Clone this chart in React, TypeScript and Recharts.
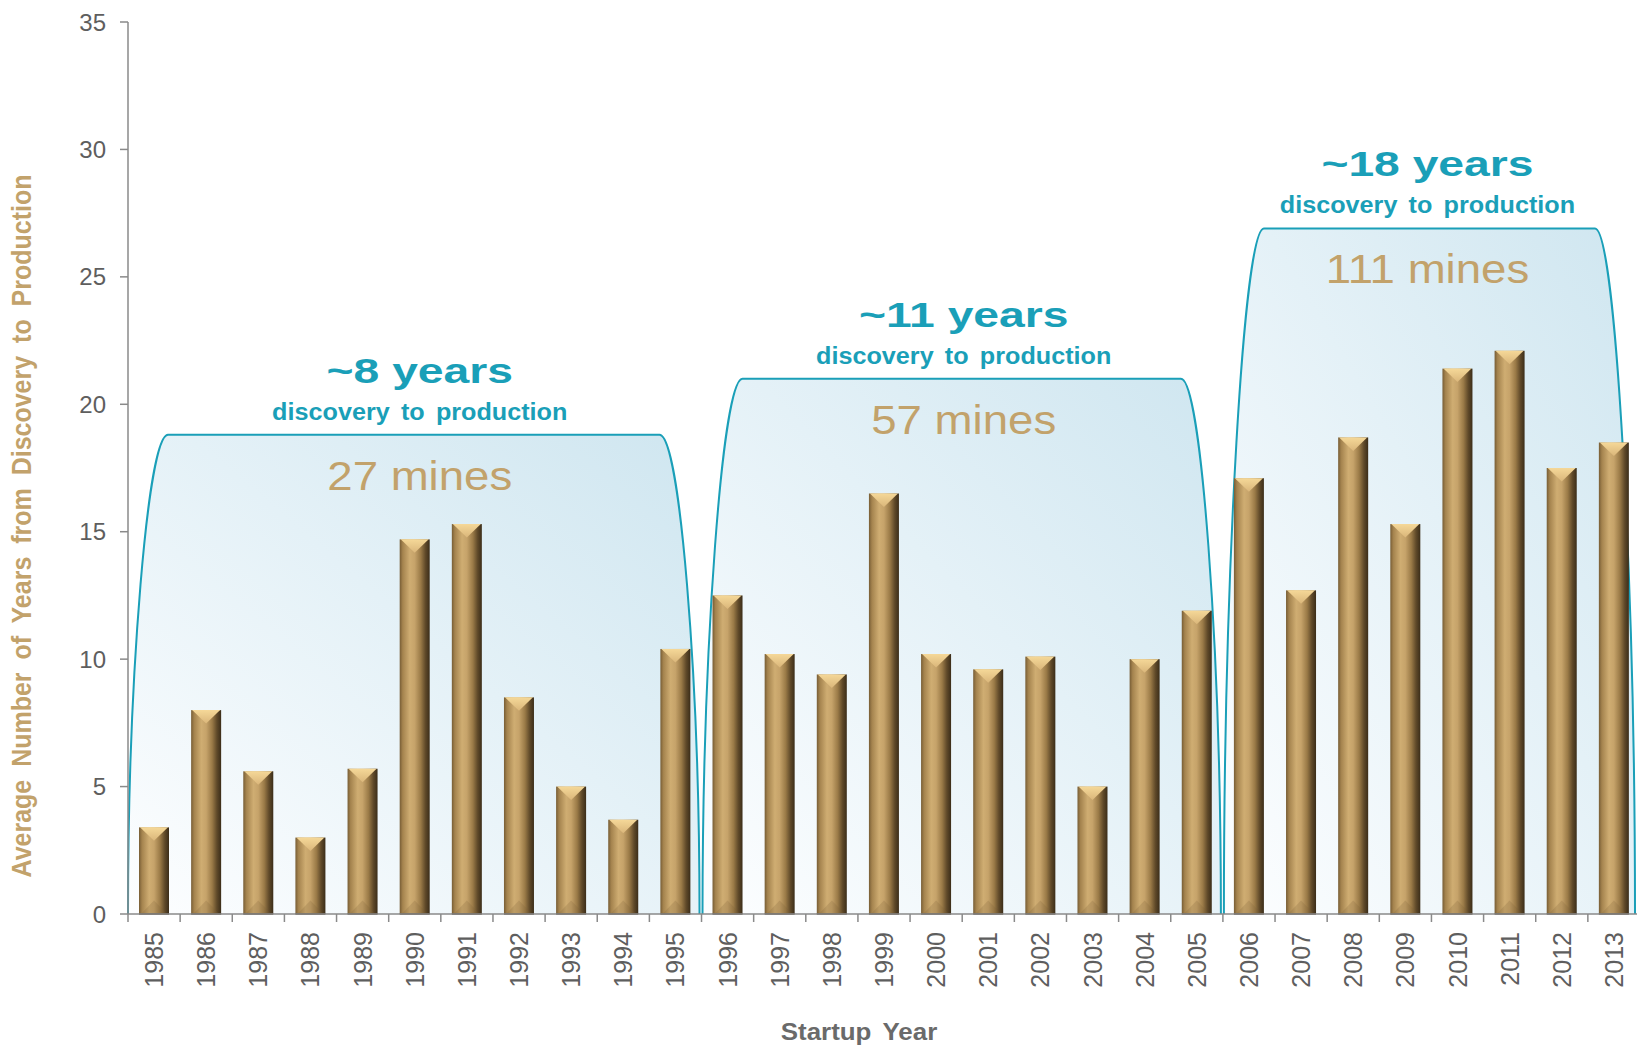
import React from "react"
import { BarChart, Bar, XAxis, YAxis, ReferenceArea } from "recharts"

const years = [
  1985, 1986, 1987, 1988, 1989, 1990, 1991, 1992, 1993, 1994, 1995,
  1996, 1997, 1998, 1999, 2000, 2001, 2002, 2003, 2004, 2005,
  2006, 2007, 2008, 2009, 2010, 2011, 2012, 2013,
]
const avgYears = [
  3.4, 8.0, 5.6, 3.0, 5.7, 14.7, 15.3, 8.5, 5.0, 3.7, 10.4,
  12.5, 10.2, 9.4, 16.5, 10.2, 9.6, 10.1, 5.0, 10.0, 11.9,
  17.1, 12.7, 18.7, 15.3, 21.4, 22.1, 17.5, 18.5,
]
const yTicks = [0, 5, 10, 15, 20, 25, 30, 35]

// period brackets
const periodFrom = [1985, 1996, 2006]
const periodTo = [1995, 2005, 2013]
const periodTop = [18.8, 21.0, 26.9]
const periodYears = ["~8 years", "~11 years", "~18 years"]
const periodMines = ["27 mines", "57 mines", "111 mines"]
const periodSub = "discovery to production"

const data = years.map((year, i) => ({ year, value: avgYears[i] }))

const FONT = "'Liberation Sans', Arial, sans-serif"
const TEAL = "#1a9fb8"
const GOLD = "#c2a26b"
const GREY = "#5e5e5e"
const AXIS = "#8a8a8a"

function GoldBar(props: any) {
  const { x, y, width, height } = props
  if (!height || height <= 0) return null
  const cap = Math.min(width * 0.45, height / 2)
  return (
    <g>
      <rect x={x} y={y} width={width} height={height} fill="url(#barBody)" />
      <polygon
        points={`${x + 1},${y} ${x + width - 1},${y} ${x + width / 2},${y + cap}`}
        fill="url(#barCap)"
      />
      <polygon
        points={`${x + 2},${y + height} ${x + width - 2},${y + height} ${x + width / 2},${y + height - cap}`}
        fill="#7a5f36"
        opacity={0.22}
      />
      <line x1={x} x2={x + width} y1={y + height} y2={y + height} stroke="#4a3920" strokeWidth={1.5} />
    </g>
  )
}

function Bracket(props: any) {
  const { x, y, width, height, idx } = props
  const d = 40
  const x0 = x + (idx === 0 ? 0 : 1)
  const x1 = x + width - (idx === 2 ? 5 : 2)
  const T = y
  const B = y + height
  const h = B - T
  const outline =
    `M ${x0} ${B} C ${x0} ${B - 0.5 * h} ${x0 + 0.5 * d} ${T} ${x0 + d} ${T} ` +
    `L ${x1 - d} ${T} C ${x1 - 0.5 * d} ${T} ${x1} ${B - 0.5 * h} ${x1} ${B}`
  const cx = (x0 + x1) / 2 + (idx === 0 ? 6 : idx === 1 ? 2 : -2)
  return (
    <g>
      <path d={outline + " Z"} fill="url(#periodFill)" stroke="none" />
      <path d={outline} fill="none" stroke={TEAL} strokeWidth={2} />
      <text
        transform={`translate(${cx} ${T - 52}) scale(1.36 1.02)`}
        textAnchor="middle"
        fontFamily={FONT}
        fontWeight="bold"
        fontSize={34}
        fill={TEAL}
      >
        {periodYears[idx]}
      </text>
      <text
        transform={`translate(${cx} ${T - 15}) scale(1.05 1)`}
        textAnchor="middle"
        fontFamily={FONT}
        fontWeight="bold"
        fontSize={24}
        wordSpacing={4}
        fill={TEAL}
      >
        {periodSub}
      </text>
      <text
        transform={`translate(${cx} ${T + 55}) scale(1.14 1)`}
        textAnchor="middle"
        fontFamily={FONT}
        fontSize={40}
        fill={GOLD}
      >
        {periodMines[idx]}
      </text>
    </g>
  )
}

function YearTick(props: any) {
  const { x, y, payload, index } = props
  const off = payload?.offset ?? 0
  return (
    <g>
      <line x1={x - off} x2={x - off} y1={y} y2={y + 8} stroke={AXIS} strokeWidth={1.5} />
      {index === years.length - 1 && (
        <line x1={x + off} x2={x + off} y1={y} y2={y + 8} stroke={AXIS} strokeWidth={1.5} />
      )}
      <text
        transform={`translate(${x} ${y + 18}) rotate(-90)`}
        textAnchor="end"
        dominantBaseline="central"
        fontFamily={FONT}
        fontSize={25}
        fill={GREY}
      >
        {payload.value}
      </text>
    </g>
  )
}

export default function App() {
  return (
    <div
      style={{
        position: "absolute",
        left: 0,
        top: 0,
        width: 1637,
        height: 1045,
        overflow: "hidden",
        background: "#fff",
      }}
    >
      <BarChart
        width={1645}
        height={1045}
        data={data}
        margin={{ top: 22, right: 5, bottom: 0, left: 0 }}
        barSize={30}
      >
        <defs>
          <linearGradient id="barBody" x1="0" y1="0" x2="1" y2="0">
            <stop offset="0%" stopColor="#775d35" />
            <stop offset="10%" stopColor="#a4834e" />
            <stop offset="34%" stopColor="#cfad72" />
            <stop offset="50%" stopColor="#c6a36a" />
            <stop offset="70%" stopColor="#9a7a47" />
            <stop offset="86%" stopColor="#5f4929" />
            <stop offset="100%" stopColor="#3b2d19" />
          </linearGradient>
          <linearGradient id="barCap" x1="0" y1="0" x2="0" y2="1">
            <stop offset="0%" stopColor="#f5d898" />
            <stop offset="100%" stopColor="#dab67a" />
          </linearGradient>
          <linearGradient id="periodFill" x1="0" y1="1" x2="1" y2="0">
            <stop offset="0%" stopColor="#fdfeff" />
            <stop offset="55%" stopColor="#e4f1f7" />
            <stop offset="100%" stopColor="#cfe6f0" />
          </linearGradient>
        </defs>

        <XAxis
          dataKey="year"
          interval={0}
          height={131}
          tickLine={false}
          tickSize={0}
          tickMargin={0}
          axisLine={{ stroke: AXIS, strokeWidth: 1.5 }}
          tick={<YearTick />}
        />
        <YAxis
          width={128}
          domain={[0, 35]}
          ticks={yTicks}
          interval={0}
          tickSize={8}
          tickMargin={14}
          axisLine={{ stroke: AXIS, strokeWidth: 1.5 }}
          tickLine={{ stroke: AXIS, strokeWidth: 1.5 }}
          tick={{ fontSize: 24, fill: GREY, fontFamily: FONT }}
        />

        {periodFrom.map((from, i) => (
          <ReferenceArea
            key={from}
            x1={from}
            x2={periodTo[i]}
            y1={0}
            y2={periodTop[i]}
            ifOverflow="visible"
            shape={(p: any) => <Bracket {...p} idx={i} />}
          />
        ))}

        <Bar dataKey="value" isAnimationActive={false} shape={<GoldBar />} />

        <text
          transform="translate(31 526) rotate(-90) scale(1 1.1)"
          textAnchor="middle"
          fontFamily={FONT}
          fontWeight="bold"
          fontSize={25}
          wordSpacing={6}
          fill={GOLD}
        >
          Average Number of Years from Discovery to Production
        </text>
        <text
          transform="translate(859 1040) scale(1.08 1)"
          textAnchor="middle"
          fontFamily={FONT}
          fontWeight="bold"
          fontSize={24}
          wordSpacing={4}
          fill="#6a6a6a"
        >
          Startup Year
        </text>
      </BarChart>
    </div>
  )
}
